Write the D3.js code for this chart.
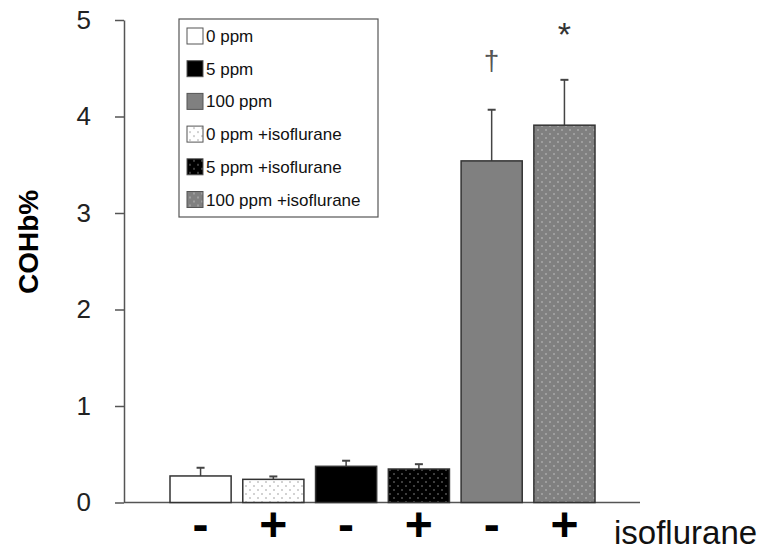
<!DOCTYPE html>
<html>
<head>
<meta charset="utf-8">
<script src="https://cdn.jsdelivr.net/npm/d3@7"></script>
<style>
  html, body { margin: 0; padding: 0; background: #fff; }
  svg { display: block; font-family: "Liberation Sans", Arial, sans-serif; }
</style>
</head>
<body>
<div id="chart"></div>
<script>
// bar order, left to right
const barGroups = ['0 ppm', '0 ppm +isoflurane', '5 ppm', '5 ppm +isoflurane', '100 ppm', '100 ppm +isoflurane'];
const means = [0.275, 0.24, 0.375, 0.347, 3.54, 3.91];
const errors = [0.085, 0.03, 0.058, 0.05, 0.53, 0.47];
const isoSigns = ['-', '+', '-', '+', '-', '+'];
const sigMarks = ['', '', '', '', '†', '*'];
const legendItems = ['0 ppm', '5 ppm', '100 ppm', '0 ppm +isoflurane', '5 ppm +isoflurane', '100 ppm +isoflurane'];
const yTicks = [0, 1, 2, 3, 4, 5];

const fills = {
  '0 ppm': '#fff',
  '5 ppm': '#000',
  '100 ppm': '#808080',
  '0 ppm +isoflurane': 'url(#dots-white)',
  '5 ppm +isoflurane': 'url(#dots-black)',
  '100 ppm +isoflurane': 'url(#dots-gray)',
};

const W = 763, H = 552;
const svg = d3.select('#chart').append('svg').attr('width', W).attr('height', H);

// dot patterns
const defs = svg.append('defs');
[['dots-white', '#fff', '#9a9a9a'], ['dots-black', '#000', '#8a8a8a'], ['dots-gray', '#808080', '#c4c4c4']]
  .forEach(([id, bg, dot]) => {
    const p = defs.append('pattern').attr('id', id).attr('patternUnits', 'userSpaceOnUse')
      .attr('width', 8).attr('height', 8);
    p.append('rect').attr('width', 8).attr('height', 8).attr('fill', bg);
    p.append('circle').attr('cx', 2).attr('cy', 2).attr('r', 0.8).attr('fill', dot);
    p.append('circle').attr('cx', 6).attr('cy', 6).attr('r', 0.8).attr('fill', dot);
  });

const y = d3.scaleLinear().domain([0, 5]).range([502.5, 20]);
const x = d3.scaleBand().domain(barGroups).range([170, 595]).paddingInner(0.16).paddingOuter(0);

const axisColor = '#555';

// y axis
svg.append('g').attr('transform', 'translate(124,0)')
  .call(d3.axisLeft(y).tickValues(yTicks).tickFormat(d3.format('d')).tickSize(9).tickPadding(24).tickSizeOuter(0))
  .call(g => g.select('.domain').attr('stroke', axisColor).attr('stroke-width', 1.5))
  .call(g => g.selectAll('.tick line').attr('stroke', axisColor).attr('stroke-width', 1.5))
  .call(g => g.selectAll('.tick text').attr('fill', '#222').attr('font-size', '26px')
    .attr('font-family', '"Liberation Sans", Arial, sans-serif'));

// x baseline
svg.append('line')
  .attr('x1', 124).attr('x2', 640).attr('y1', y(0)).attr('y2', y(0))
  .attr('stroke', axisColor).attr('stroke-width', 1.5);

// y title
svg.append('text')
  .attr('transform', `translate(38,${y(2.7)}) rotate(-90)`)
  .attr('text-anchor', 'middle').attr('font-size', '28px').attr('font-weight', 'bold')
  .attr('fill', '#000').text('COHb%');

// error bars (drawn first so bars cover the stem)
const eb = svg.selectAll('.err').data(barGroups).join('g').attr('class', 'err');
eb.append('line')
  .attr('x1', d => x(d) + x.bandwidth() / 2).attr('x2', d => x(d) + x.bandwidth() / 2)
  .attr('y1', (d, i) => y(means[i])).attr('y2', (d, i) => y(means[i] + errors[i]))
  .attr('stroke', '#444').attr('stroke-width', 1.5);
eb.append('line')
  .attr('x1', d => x(d) + x.bandwidth() / 2 - 4).attr('x2', d => x(d) + x.bandwidth() / 2 + 4)
  .attr('y1', (d, i) => y(means[i] + errors[i])).attr('y2', (d, i) => y(means[i] + errors[i]))
  .attr('stroke', '#444').attr('stroke-width', 2);

// bars
svg.selectAll('.bar').data(barGroups).join('rect')
  .attr('class', 'bar')
  .attr('x', d => x(d)).attr('width', x.bandwidth())
  .attr('y', (d, i) => y(means[i])).attr('height', (d, i) => y(0) - y(means[i]))
  .attr('fill', d => fills[d]).attr('stroke', '#333').attr('stroke-width', 1.5);

// significance marks
const markStyle = { '†': { size: 28, gap: 40, color: '#555' }, '*': { size: 34, gap: 34, color: '#333' } };
svg.selectAll('.mark').data(barGroups.filter((d, i) => sigMarks[i])).join('text')
  .attr('class', 'mark')
  .attr('x', d => x(d) + x.bandwidth() / 2)
  .attr('y', d => {
    const i = barGroups.indexOf(d);
    return y(means[i] + errors[i]) - markStyle[sigMarks[i]].gap;
  })
  .attr('text-anchor', 'middle')
  .attr('font-size', d => markStyle[sigMarks[barGroups.indexOf(d)]].size + 'px')
  .attr('fill', d => markStyle[sigMarks[barGroups.indexOf(d)]].color)
  .text(d => sigMarks[barGroups.indexOf(d)]);

// +/- row
svg.selectAll('.sign').data(barGroups).join('text')
  .attr('class', 'sign')
  .attr('x', d => x(d) + x.bandwidth() / 2).attr('y', 541)
  .attr('text-anchor', 'middle').attr('font-size', '48px').attr('font-weight', 'bold')
  .attr('fill', '#000')
  .text((d, i) => isoSigns[i]);

svg.append('text').attr('x', 614).attr('y', 544)
  .attr('font-size', '33px').attr('fill', '#111').text('isoflurane');

// legend
const legend = svg.append('g');
legend.append('rect').attr('x', 179).attr('y', 19).attr('width', 199).attr('height', 198)
  .attr('fill', '#fff').attr('stroke', '#555').attr('stroke-width', 1.2);
const rowY = d3.scalePoint().domain(legendItems).range([36, 199.5]);
const rows = legend.selectAll('.leg').data(legendItems).join('g').attr('class', 'leg')
  .attr('transform', d => `translate(0,${rowY(d)})`);
rows.append('rect').attr('x', 187).attr('y', -8).attr('width', 16).attr('height', 16)
  .attr('fill', d => fills[d]).attr('stroke', '#555').attr('stroke-width', 1);
rows.append('text').attr('x', 206).attr('y', 6)
  .attr('font-size', '17px').attr('fill', '#111').text(d => d);
</script>
</body>
</html>
